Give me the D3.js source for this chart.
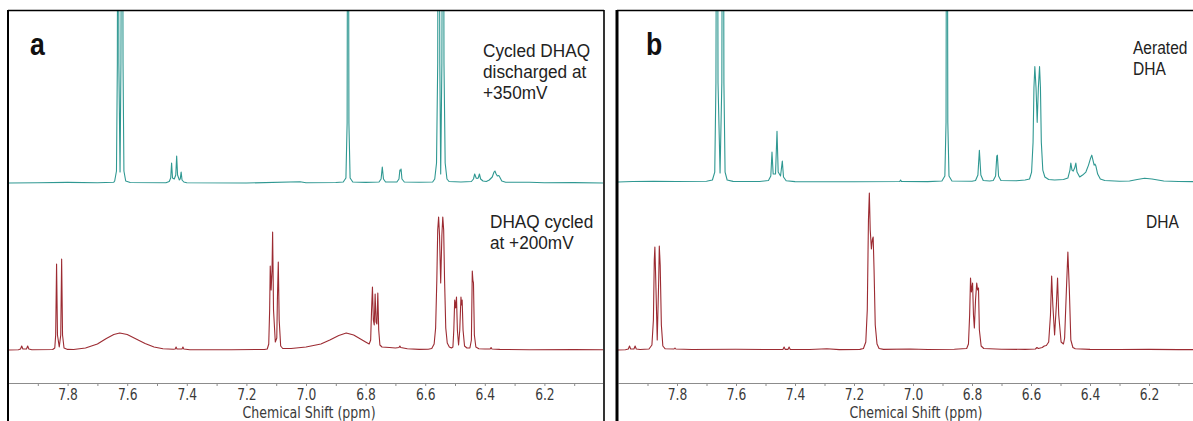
<!DOCTYPE html>
<html>
<head>
<meta charset="utf-8">
<script src="https://cdn.jsdelivr.net/npm/d3@7"></script>
<style>
  body { margin: 0; background: #fff; }
  svg { display: block; }
</style>
</head>
<body>
<div id="chart"></div>
<script>
// ---- data: [ppm, intensity] ----
const panelLabels = ["a", "b"];
const axisTitle = "Chemical Shift (ppm)";
const ppmDomain = [8.0, 6.0];
const ppmTicks = [7.9, 7.8, 7.7, 7.6, 7.5, 7.4, 7.3, 7.2, 7.1, 7.0, 6.9, 6.8, 6.7, 6.6, 6.5, 6.4, 6.3, 6.2, 6.1];
const labelledTicks = [7.8, 7.6, 7.4, 7.2, 7.0, 6.8, 6.6, 6.4, 6.2];

const dischargedText = ["Cycled DHAQ", "discharged at", "+350mV"];
const cycled200Text = ["DHAQ cycled", "at +200mV"];
const aeratedText = ["Aerated", "DHA"];
const dhaText = ["DHA"];

// panel a, teal: cycled DHAQ discharged at +350 mV
const discharged350 = [
  [8.00, 0], [7.90, 0.3], [7.80, 0.6], [7.70, 0.3], [7.645, 0.8],
  [7.642, 2], [7.636, 12], [7.633, 120], [7.631, 600], [7.628, 120], [7.624, 11],
  [7.621, 120], [7.617, 600], [7.614, 120], [7.611, 12], [7.605, 2], [7.59, 0.5],
  [7.47, 0.3], [7.459, 1.5], [7.454, 5], [7.451, 20], [7.448, 5], [7.442, 4], [7.437, 8],
  [7.434, 27], [7.431, 8], [7.425, 3], [7.422, 4], [7.419, 11], [7.416, 3], [7.41, 1], [7.40, 0.3],
  [7.20, 0], [7.02, 1.2], [7.00, 0.2], [6.90, 0.5],
  [6.875, 1], [6.866, 5], [6.862, 60], [6.859, 600], [6.856, 60], [6.852, 5], [6.843, 1],
  [6.80, 0.6], [6.755, 1], [6.748, 4], [6.744, 16], [6.740, 4], [6.733, 1],
  [6.695, 1], [6.688, 4], [6.685, 13], [6.683, 12], [6.681, 14], [6.678, 4], [6.670, 1],
  [6.62, 0.7], [6.575, 1], [6.568, 4], [6.562, 20], [6.558, 120], [6.555, 600], [6.551, 120],
  [6.548, 9], [6.544, 120], [6.540, 600], [6.537, 120], [6.533, 20], [6.527, 4], [6.52, 1.5],
  [6.48, 1], [6.445, 1.5], [6.438, 4], [6.434, 9], [6.429, 5], [6.426, 4.5], [6.422, 5],
  [6.418, 9], [6.414, 4], [6.406, 2], [6.395, 1.5], [6.385, 3], [6.375, 6], [6.369, 11],
  [6.366, 12], [6.362, 9], [6.358, 7], [6.353, 7.5], [6.350, 6], [6.343, 2], [6.33, 0.8],
  [6.25, 0.8], [6.20, 0.3], [6.10, 0.4], [6.00, 0]
];

// panel a, red: DHAQ cycled at +200 mV
const cycled200 = [
  [8.00, 0], [7.965, 0.3], [7.958, 1], [7.954, 4], [7.950, 1], [7.938, 1], [7.934, 4], [7.930, 1],
  [7.92, 0.3], [7.85, 0.5], [7.843, 2], [7.840, 15], [7.837, 86], [7.834, 15], [7.828, 3],
  [7.823, 15], [7.820, 91], [7.817, 15], [7.812, 2], [7.80, 0.6],
  [7.78, 0.5], [7.74, 2], [7.70, 6], [7.67, 11.5], [7.645, 15.5], [7.625, 17], [7.60, 15.5],
  [7.57, 11], [7.54, 6.5], [7.51, 3], [7.48, 1.2], [7.445, 0.8],
  [7.439, 1], [7.436, 3], [7.433, 1], [7.416, 1], [7.413, 3], [7.410, 1], [7.39, 0.3],
  [7.25, 0.3], [7.14, 0.5], [7.130, 1], [7.125, 6], [7.122, 40], [7.120, 84], [7.117, 60],
  [7.114, 80], [7.112, 118], [7.109, 40], [7.103, 8], [7.098, 12], [7.096, 50], [7.093, 88],
  [7.090, 30], [7.085, 4], [7.078, 1.5],
  [7.05, 1.5], [7.00, 3], [6.95, 6], [6.92, 10], [6.89, 14.5], [6.865, 17], [6.84, 15],
  [6.82, 11.5], [6.80, 8], [6.788, 6], [6.783, 10], [6.780, 40], [6.777, 63], [6.774, 30],
  [6.771, 25], [6.768, 56], [6.765, 28], [6.762, 26], [6.759, 57], [6.756, 20], [6.752, 5],
  [6.745, 3], [6.72, 2.5], [6.70, 2], [6.688, 2.5], [6.685, 4], [6.682, 2.5], [6.66, 1.2],
  [6.62, 0.6], [6.59, 0.8],
  [6.578, 1.5], [6.570, 6], [6.565, 22], [6.561, 70], [6.558, 120], [6.555, 133], [6.552, 115],
  [6.548, 67], [6.544, 115], [6.541, 133], [6.538, 120], [6.535, 70], [6.531, 22], [6.526, 7],
  [6.519, 3], [6.512, 2], [6.507, 3], [6.504, 20], [6.501, 50], [6.498, 42], [6.495, 53],
  [6.492, 20], [6.488, 5], [6.484, 20], [6.480, 53], [6.478, 45], [6.476, 50], [6.473, 20],
  [6.468, 4], [6.460, 2], [6.450, 2], [6.445, 10], [6.442, 79], [6.440, 70], [6.438, 67],
  [6.435, 15], [6.430, 3], [6.42, 1.2], [6.40, 1], [6.382, 1], [6.379, 2.5], [6.376, 1],
  [6.35, 0.6], [6.25, 0.3], [6.10, 0.4], [6.00, 0.3]
];

// panel b, teal: aerated DHA
const aeratedDha = [
  [8.00, 0], [7.95, 0.5], [7.88, 0.8], [7.80, 0.5], [7.70, 0.8],
  [7.680, 2], [7.672, 10], [7.668, 100], [7.664, 600], [7.661, 100], [7.654, 9],
  [7.648, 100], [7.644, 600], [7.641, 100], [7.637, 10], [7.63, 2], [7.61, 0.6],
  [7.52, 0.5], [7.49, 1.5], [7.482, 6], [7.478, 30], [7.474, 8], [7.466, 8], [7.461, 51],
  [7.457, 10], [7.449, 6], [7.443, 21], [7.439, 5], [7.43, 1.2], [7.40, 0.4],
  [7.20, 0.3], [7.045, 0.5], [7.042, 2], [7.039, 0.5], [6.95, 0.4],
  [6.902, 1], [6.892, 6], [6.888, 60], [6.885, 600], [6.882, 60], [6.878, 6], [6.868, 1],
  [6.80, 0.8], [6.788, 1.5], [6.780, 7], [6.775, 32], [6.770, 7], [6.762, 1.5],
  [6.74, 1], [6.728, 1.5], [6.720, 6], [6.716, 26], [6.714, 27], [6.710, 6], [6.702, 1.5],
  [6.65, 1.2], [6.62, 2], [6.605, 3], [6.598, 10], [6.593, 40], [6.590, 95], [6.587, 116],
  [6.583, 95], [6.579, 60], [6.575, 95], [6.571, 116], [6.568, 95], [6.565, 40], [6.560, 12],
  [6.553, 5], [6.54, 2.5], [6.52, 2], [6.49, 2.5],
  [6.475, 4], [6.468, 12], [6.465, 19], [6.461, 12], [6.457, 11], [6.452, 14], [6.448, 19],
  [6.444, 10], [6.435, 5], [6.425, 7], [6.414, 10], [6.405, 17], [6.398, 24], [6.394, 27],
  [6.390, 22], [6.386, 17], [6.383, 18], [6.380, 16], [6.374, 8], [6.365, 3], [6.35, 1.5],
  [6.30, 0.8], [6.266, 1], [6.24, 2.5], [6.215, 3.7], [6.19, 3], [6.15, 1], [6.10, 0.5], [6.00, 0.3]
];

// panel b, red: DHA
const dha = [
  [8.00, 0], [7.975, 0.3], [7.965, 1], [7.961, 4], [7.957, 1], [7.946, 1], [7.942, 4], [7.938, 1],
  [7.925, 0.5], [7.895, 1], [7.885, 5], [7.880, 30], [7.877, 90], [7.875, 103], [7.872, 70],
  [7.867, 10], [7.862, 70], [7.860, 104], [7.857, 85], [7.853, 25], [7.848, 4], [7.84, 1.2],
  [7.810, 1], [7.807, 2], [7.804, 1], [7.75, 0.5], [7.60, 0.7], [7.50, 0.5],
  [7.441, 0.6], [7.437, 3], [7.433, 0.6], [7.424, 0.6], [7.420, 3], [7.416, 0.6],
  [7.35, 0.5], [7.292, 1.3], [7.25, 0.4], [7.18, 0.6],
  [7.168, 1.5], [7.160, 8], [7.155, 40], [7.151, 130], [7.148, 157], [7.145, 120], [7.141, 101],
  [7.138, 110], [7.135, 113], [7.132, 80], [7.128, 25], [7.122, 6], [7.115, 1.5], [7.10, 0.6],
  [7.01, 1], [6.95, 0.5], [6.86, 0.8],
  [6.818, 1.5], [6.812, 6], [6.808, 35], [6.805, 72], [6.802, 58], [6.798, 67], [6.795, 35],
  [6.792, 22], [6.788, 50], [6.784, 67], [6.781, 60], [6.778, 62], [6.775, 20], [6.769, 4],
  [6.76, 1.5], [6.70, 0.8], [6.62, 0.6], [6.585, 1], [6.580, 2.5], [6.575, 1.5], [6.562, 2.5],
  [6.555, 4], [6.548, 4.5], [6.540, 8], [6.534, 35], [6.530, 74], [6.526, 45], [6.520, 15],
  [6.514, 45], [6.510, 72], [6.506, 35], [6.498, 8], [6.490, 6], [6.486, 12], [6.480, 60],
  [6.475, 98], [6.470, 60], [6.465, 10], [6.458, 2.5], [6.45, 1.2], [6.40, 0.6], [6.30, 0.5],
  [6.20, 0.6], [6.10, 0.4], [6.00, 0.3]
];

// ---- layout ----
const width = 1193, height = 421;
const tealColor = "#2f9892", redColor = "#9c2b32";
const fullScale = 173;     // intensity that reaches the top frame from the upper baseline
const axisY = 383;
const lineGap = 21;        // annotation line spacing

const panels = [
  { label: panelLabels[0], frame: [8, 604], range: [8, 604], labelX: 30, topBase: 183,
    upper: discharged350, lower: cycled200, textSquash: 0.93,
    upperText: dischargedText, upperX: 483, upperY: 57,
    lowerText: cycled200Text, lowerX: 490, lowerY: 228 },
  { label: panelLabels[1], frame: [617, 1260], range: [618, 1208], labelX: 646, topBase: 182,
    upper: aeratedDha, lower: dha, textSquash: 0.84,
    upperText: aeratedText, upperX: 1133, upperY: 54,
    lowerText: dhaText, lowerX: 1146, lowerY: 228 }
];

const svg = d3.select("#chart").append("svg")
  .attr("width", width)
  .attr("height", height);

// multi-line annotation, one text element per line
function annotate(g, lines, x, y, squash) {
  lines.forEach((s, k) => {
    g.append("text")
      .attr("transform", "translate(" + x + "," + (y + k * lineGap) + ") scale(" + squash + ",1)")
      .attr("font-family", "'Liberation Sans', Arial, sans-serif")
      .attr("font-size", 18.5)
      .attr("fill", "#222")
      .text(s);
  });
}

panels.forEach((p, i) => {
  const g = svg.append("g").attr("class", "panel-" + p.label);
  const x = d3.scaleLinear().domain(ppmDomain).range(p.range);
  const yUpper = d3.scaleLinear().domain([0, fullScale]).range([p.topBase, 10]);
  const yLower = d3.scaleLinear().domain([0, fullScale]).range([350, 177]);

  g.append("clipPath").attr("id", "clip" + i)
    .append("rect")
    .attr("x", p.frame[0] + 1).attr("y", 11)
    .attr("width", p.frame[1] - p.frame[0] - 2).attr("height", height);

  const plot = g.append("g").attr("clip-path", "url(#clip" + i + ")");

  // axis
  const axis = d3.axisBottom(x)
    .tickValues(ppmTicks)
    .tickFormat(d => labelledTicks.includes(d) ? d3.format(".1f")(d) : "")
    .tickSize(3)
    .tickSizeOuter(0)
    .tickPadding(3);
  const axG = plot.append("g")
    .attr("transform", "translate(0," + axisY + ")")
    .call(axis);
  axG.select(".domain").attr("stroke", "#8c8c8c");
  axG.selectAll(".tick line").attr("stroke", "#8c8c8c");
  axG.selectAll(".tick text")
    .attr("fill", "#3a3a3a")
    .attr("font-family", "'DejaVu Sans', sans-serif")
    .attr("font-size", 15)
    .attr("transform", "scale(0.82,1)");

  plot.append("text")
    .attr("transform", "translate(" + x(6.99) + ",418) scale(0.84,1)")
    .attr("text-anchor", "middle")
    .attr("font-family", "'DejaVu Sans', sans-serif")
    .attr("font-size", 15)
    .attr("fill", "#3a3a3a")
    .text(axisTitle);

  const line = y => d3.line().x(d => x(d[0])).y(d => y(d[1]));

  plot.append("path").datum(p.upper)
    .attr("fill", "none").attr("stroke", tealColor).attr("stroke-width", 1.1)
    .attr("stroke-linejoin", "round")
    .attr("d", line(yUpper));

  plot.append("path").datum(p.lower)
    .attr("fill", "none").attr("stroke", redColor).attr("stroke-width", 1.1)
    .attr("stroke-linejoin", "round")
    .attr("d", line(yLower));

  // annotations
  annotate(g, p.upperText, p.upperX, p.upperY, p.textSquash);
  annotate(g, p.lowerText, p.lowerX, p.lowerY, p.textSquash);

  g.append("text")
    .attr("transform", "translate(" + p.labelX + ",55) scale(0.86,1)")
    .attr("font-family", "'Liberation Sans', Arial, sans-serif")
    .attr("font-weight", "bold").attr("font-size", 31)
    .attr("fill", "#111")
    .text(p.label);

  // frame (open at the bottom, panel b also open at the right)
  const fr = g.append("g").attr("stroke", "#000").attr("fill", "none");
  fr.append("line").attr("x1", p.frame[0]).attr("x2", p.frame[0]).attr("y1", 10).attr("y2", height)
    .attr("stroke-width", i === 0 ? 2 : 3);
  fr.append("line").attr("x1", p.frame[0]).attr("x2", p.frame[1]).attr("y1", 10.5).attr("y2", 10.5)
    .attr("stroke-width", 1.6);
  if (i === 0) {
    fr.append("line").attr("x1", p.frame[1]).attr("x2", p.frame[1]).attr("y1", 10).attr("y2", height)
      .attr("stroke-width", 1.6);
  }
});
</script>
</body>
</html>
